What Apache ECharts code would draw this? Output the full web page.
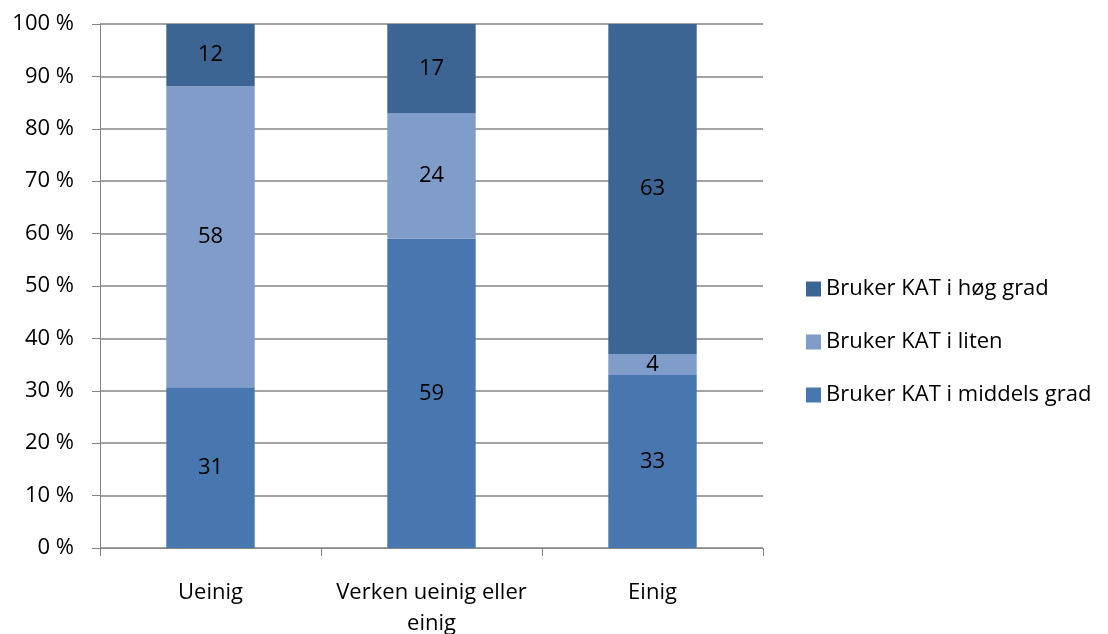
<!DOCTYPE html>
<html>
<head>
<meta charset="utf-8">
<script src="https://cdn.jsdelivr.net/npm/echarts@6/dist/echarts.min.js"></script>
<style>
  html, body { margin: 0; padding: 0; background: #fff; }
  #chart { width: 1108px; height: 634px; }
</style>
</head>
<body>
<div id="chart"></div>
<script>
  // kategorier og verdier (antall), tegnes som 100 % stablet
  var categories = ['Ueinig', 'Verken ueinig eller\neinig', 'Einig'];
  var seriesNames = ['Bruker KAT i middels grad', 'Bruker KAT i liten', 'Bruker KAT i høg grad'];
  var middels = [31, 59, 33];
  var liten = [58, 24, 4];
  var hog = [12, 17, 63];
  var yTicks = [0, 10, 20, 30, 40, 50, 60, 70, 80, 90, 100];

  var colors = ['#4877AF', '#7F9DC8', '#3D6594'];
  var font = 'Open Sans';

  var raw = [middels, liten, hog];
  var totals = categories.map(function (c, i) {
    return middels[i] + liten[i] + hog[i];
  });

  var series = raw.map(function (vals, s) {
    return {
      name: seriesNames[s],
      type: 'bar',
      stack: 'total',
      barWidth: '40%',
      itemStyle: { color: colors[s] },
      label: {
        show: true,
        position: 'inside',
        color: '#000',
        fontFamily: font,
        fontSize: 22,
        formatter: function (p) { return vals[p.dataIndex]; }
      },
      data: vals.map(function (v, i) { return v / totals[i] * 100; })
    };
  });

  var myChart = echarts.init(document.getElementById('chart'));
  myChart.setOption({
    animation: false,
    grid: { left: 100, right: 345, top: 24, bottom: 86, outerBoundsMode: 'none', containLabel: false },
    legend: {
      orient: 'vertical',
      left: 801,
      top: 269,
      itemGap: 23,
      itemWidth: 15,
      itemHeight: 15,
      icon: 'rect',
      data: [seriesNames[2], seriesNames[1], seriesNames[0]],
      textStyle: { color: '#000', fontFamily: font, fontSize: 22, lineHeight: 30 }
    },
    xAxis: {
      type: 'category',
      data: categories,
      axisLine: { lineStyle: { color: '#868686', width: 1 } },
      axisTick: { show: true, length: 8, lineStyle: { color: '#868686' } },
      axisLabel: {
        interval: 0,
        hideOverlap: false,
        color: '#000',
        fontFamily: font,
        fontSize: 22,
        margin: 29,
        lineHeight: 31
      }
    },
    yAxis: {
      type: 'value',
      min: yTicks[0],
      max: yTicks[yTicks.length - 1],
      interval: 10,
      axisLine: { show: true, lineStyle: { color: '#868686' } },
      axisTick: { show: true, length: 8, lineStyle: { color: '#868686' } },
      splitLine: { lineStyle: { color: '#868686', width: 1.5 } },
      axisLabel: {
        color: '#000',
        fontFamily: font,
        fontSize: 22,
        margin: 26,
        formatter: function (v) { return v + ' %'; }
      }
    },
    series: series
  });
  window.onresize = myChart.resize;
</script>
</body>
</html>
